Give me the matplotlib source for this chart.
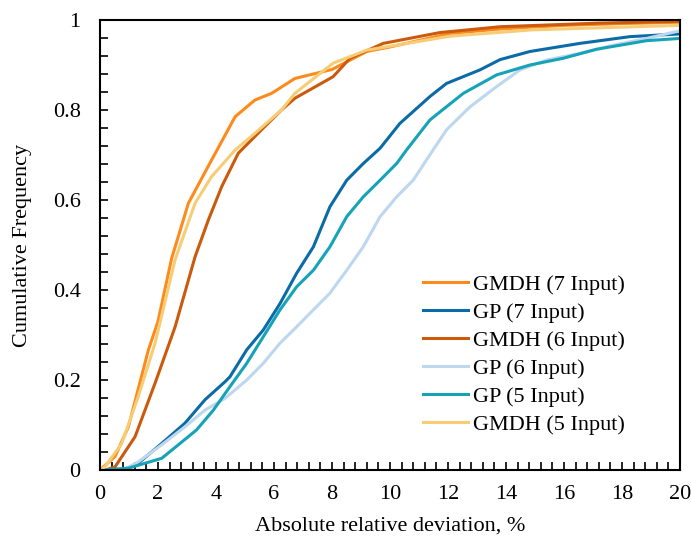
import matplotlib.pyplot as plt
from matplotlib.ticker import MultipleLocator

plt.rcParams['font.family'] = ['Liberation Serif', 'DejaVu Serif']

# Curvas de frecuencia acumulada
x_gmdh7 = [0, 0.52, 0.98, 1.67, 2.0, 2.47, 3.05, 3.85, 4.66, 5.34, 5.92, 6.72, 8.0, 9.2, 10.0, 12.07, 13.8, 16.0, 18.0, 20.0]
y_gmdh7 = [0, 0.03, 0.096, 0.267, 0.33, 0.47, 0.593, 0.689, 0.785, 0.822, 0.837, 0.870, 0.89, 0.93, 0.94, 0.97, 0.98, 0.988, 0.992, 0.995]

x_gp7 = [0, 0.8, 1.32, 2.13, 2.93, 3.62, 4.31, 4.48, 5.06, 5.63, 6.21, 6.78, 7.36, 7.93, 8.51, 9.08, 9.66, 10.34, 11.38, 11.95, 13.1, 13.8, 14.83, 16.55, 18.28, 20.0]
y_gp7 = [0, 0.0, 0.015, 0.059, 0.104, 0.156, 0.196, 0.207, 0.267, 0.311, 0.370, 0.437, 0.496, 0.585, 0.644, 0.681, 0.715, 0.77, 0.83, 0.859, 0.889, 0.912, 0.93, 0.948, 0.963, 0.969]

x_gmdh6 = [0, 0.2, 0.52, 1.21, 1.90, 2.59, 3.28, 3.74, 4.2, 4.77, 5.57, 6.26, 6.72, 8.04, 8.62, 9.77, 11.72, 13.8, 17.2, 20.0]
y_gmdh6 = [0, 0.0, 0.007, 0.074, 0.193, 0.318, 0.474, 0.556, 0.63, 0.704, 0.756, 0.8, 0.826, 0.874, 0.915, 0.948, 0.972, 0.985, 0.993, 0.997]

x_gp6 = [0, 0.8, 1.32, 2.13, 2.93, 3.62, 4.31, 5.06, 5.63, 6.21, 6.78, 7.36, 7.93, 8.51, 9.08, 9.66, 10.23, 10.80, 11.26, 11.95, 12.76, 13.68, 14.48, 15.4, 16.55, 17.7, 18.85, 20.0]
y_gp6 = [0, 0.0, 0.018, 0.056, 0.096, 0.133, 0.159, 0.2, 0.237, 0.282, 0.318, 0.356, 0.393, 0.444, 0.496, 0.563, 0.607, 0.644, 0.689, 0.756, 0.807, 0.852, 0.889, 0.911, 0.926, 0.944, 0.959, 0.976]

x_gp5 = [0, 0.98, 2.13, 2.76, 3.33, 3.91, 4.48, 5.06, 5.63, 6.21, 6.78, 7.36, 7.93, 8.51, 9.08, 9.66, 10.23, 10.57, 11.38, 12.53, 13.68, 14.83, 15.98, 17.13, 18.85, 20.0]
y_gp5 = [0, 0.004, 0.026, 0.059, 0.089, 0.133, 0.185, 0.237, 0.296, 0.356, 0.407, 0.444, 0.496, 0.563, 0.607, 0.644, 0.681, 0.711, 0.778, 0.837, 0.878, 0.9, 0.915, 0.935, 0.954, 0.959]

x_gmdh5 = [0, 0.17, 0.75, 1.32, 1.9, 2.59, 3.28, 3.85, 4.66, 5.34, 6.26, 6.72, 8.04, 9.2, 12.07, 14.9, 20.0]
y_gmdh5 = [0, 0.007, 0.059, 0.163, 0.282, 0.467, 0.593, 0.652, 0.711, 0.748, 0.80, 0.837, 0.904, 0.933, 0.964, 0.978, 0.988]

fig = plt.figure(figsize=(6.91, 5.37), dpi=100)
ax = fig.add_axes([0.1447, 0.1248, 0.8393, 0.838])

lw = 2.2
ax.plot(x_gmdh7, y_gmdh7, color='#FF8A1C', lw=lw, label='GMDH (7 Input)')
ax.plot(x_gp7, y_gp7, color='#0B6BA6', lw=lw, label='GP (7 Input)')
ax.plot(x_gmdh6, y_gmdh6, color='#CC5A0C', lw=lw, label='GMDH (6 Input)')
ax.plot(x_gp6, y_gp6, color='#BDD7EE', lw=lw, label='GP (6 Input)')
ax.plot(x_gp5, y_gp5, color='#16A3B8', lw=lw, label='GP (5 Input)')
ax.plot(x_gmdh5, y_gmdh5, color='#F6CD75', lw=lw, label='GMDH (5 Input)')

ax.set_xlim(0, 20)
ax.set_ylim(0, 1)
ax.xaxis.set_major_locator(MultipleLocator(2))
ax.xaxis.set_minor_locator(MultipleLocator(0.4))
ax.yaxis.set_major_locator(MultipleLocator(0.2))
ax.yaxis.set_minor_locator(MultipleLocator(0.04))
ax.set_yticks([0, 0.2, 0.4, 0.6, 0.8, 1.0])
ax.set_yticklabels(['0', '0.2', '0.4', '0.6', '0.8', '1'])
ax.tick_params(which='both', direction='in', top=False, right=False, labelsize=16, width=1.2, length=6)
ax.tick_params(axis='x', which='major', pad=11)
ax.tick_params(axis='y', which='major', pad=14)
for s in ax.spines.values():
    s.set_linewidth(1.5)

ax.set_xlabel('Absolute relative deviation, %', fontsize=16, labelpad=9)
ax.set_ylabel('Cumulative Frequency', fontsize=16, labelpad=15)

ax.legend(loc='lower right', bbox_to_anchor=(0.939, 0.033), frameon=False, fontsize=16,
          handlelength=2.0, handletextpad=0.22, labelspacing=0.34)

fig.savefig('out.png', dpi=100)
